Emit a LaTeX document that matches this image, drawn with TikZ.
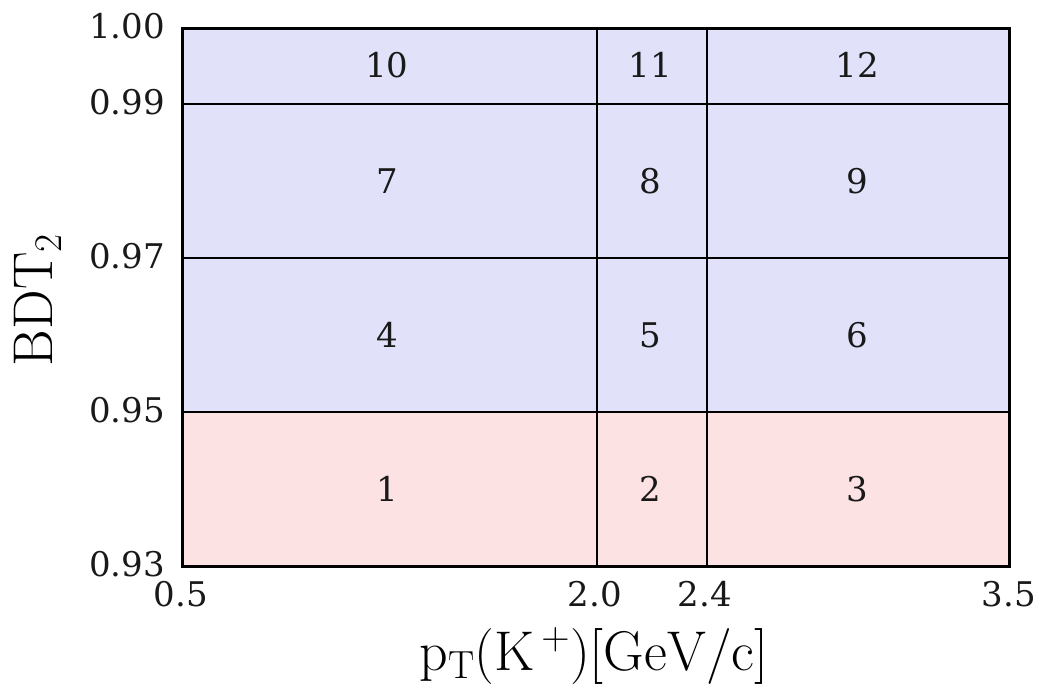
\RequirePackage{fix-cm}
\documentclass[tikz,border=0pt]{standalone}
\usepackage{fontspec}
\newfontfamily\tickfont{DejaVu Serif}
\definecolor{sigblue}{RGB}{225,225,250}
\definecolor{bkgpink}{RGB}{253,226,228}
\begin{document}
\begin{tikzpicture}[x=1pt,y=-1pt,
  ticklab/.style={inner sep=0pt,font=\tickfont\fontsize{34}{40}\selectfont,text=black!90},
  celllab/.style={inner sep=0pt,font=\tickfont\fontsize{34}{40}\selectfont,text=black!90},
  axlab/.style={inner sep=0pt,font=\fontsize{56}{64}\selectfont},
  gridline/.style={line width=2pt,black},
  frame/.style={line width=3pt,black}]
\useasboundingbox (0,0) rectangle (1041,688);
% fills
\fill[sigblue] (182,28) rectangle (1009,412);
\fill[bkgpink] (182,412) rectangle (1009,566);
% grid
\draw[gridline] (597,28) -- (597,566);
\draw[gridline] (707,28) -- (707,566);
\draw[gridline] (182,104) -- (1009,104);
\draw[gridline] (182,258) -- (1009,258);
\draw[gridline] (182,412) -- (1009,412);
\draw[frame] (182,28) rectangle (1009,566);
% cell numbers
\foreach \r/\yc in {0/489,1/335,2/181,3/65}{
  \foreach \c/\xc in {1/387,2/650,3/857}{
    \pgfmathtruncatemacro{\num}{3*\r+\c}
    \node[celllab] (c\num) at (\xc,\yc) {\num};
  }
}
% y ticks
\node[ticklab,anchor=east] (y100) at (165,26) {1.00};
\node[ticklab,anchor=east] (y099) at (165,102) {0.99};
\node[ticklab,anchor=east] (y097) at (165,256) {0.97};
\node[ticklab,anchor=east] (y095) at (165,410) {0.95};
\node[ticklab,anchor=east] (y093) at (165,564) {0.93};
% x ticks
\node[ticklab] (x05) at (181,594) {0.5};
\node[ticklab] (x20) at (595,594) {2.0};
\node[ticklab] (x24) at (705,594) {2.4};
\node[ticklab] (x35) at (1009,594) {3.5};
% axis labels
\node[axlab,rotate=90] (ylab) at (38,300) {$\mathrm{BDT_2}$};
\node[axlab] (xlab) at (594,656) {$\mathrm{p_T(K^{\,+})[GeV/c]}$};
\end{tikzpicture}
\end{document}
